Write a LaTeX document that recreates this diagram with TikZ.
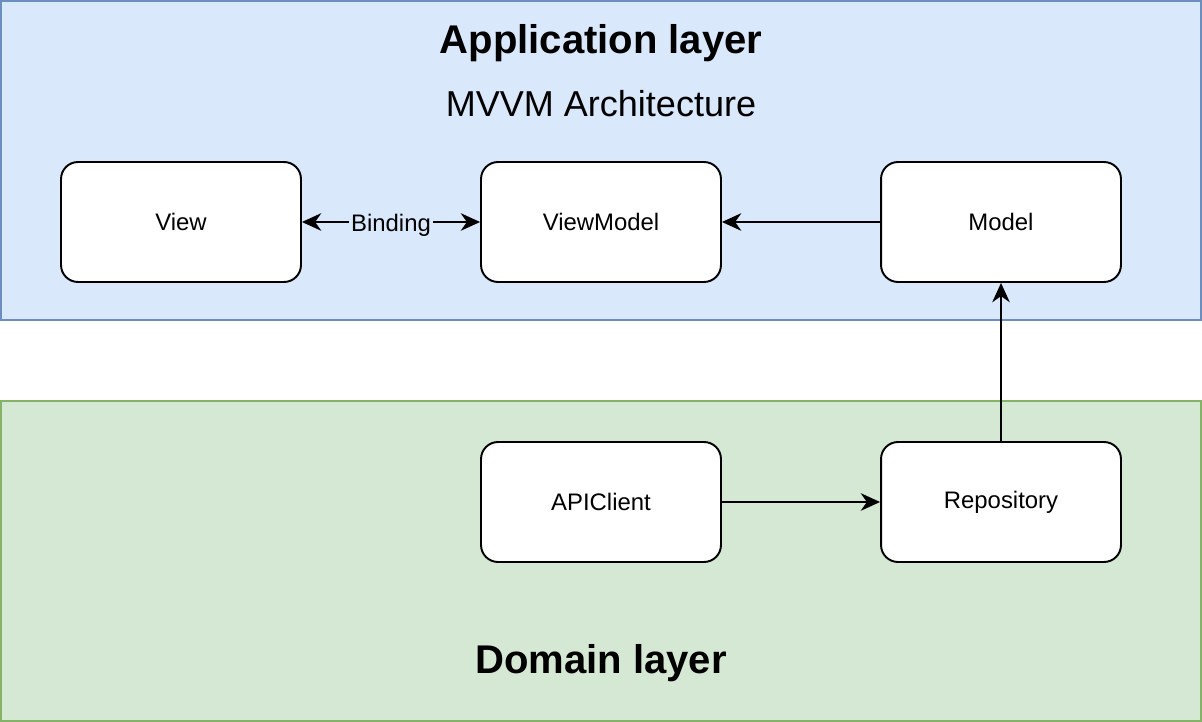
\documentclass[tikz,border=0pt]{standalone}
\usepackage{fontspec}
\setmainfont{Liberation Sans}
\usetikzlibrary{arrows.meta}

\definecolor{appfill}{HTML}{DAE8FC}
\definecolor{appline}{HTML}{6C8EBF}
\definecolor{domfill}{HTML}{D5E8D4}
\definecolor{domline}{HTML}{82B366}

\tikzset{
  block/.style={draw=black, fill=white, line width=1.1pt, rounded corners=0.34cm,
    minimum width=4.8cm, minimum height=2.4cm, font=\fontsize{13.6}{16}\selectfont},
  tip/.tip={Stealth[length=11pt,width=10pt,inset=3.5pt]},
  link/.style={line width=1.1pt, -tip},
}

\begin{document}
\begin{tikzpicture}[x=0.02cm, y=-0.02cm]
    \useasboundingbox (0,0) rectangle (1202,722);
    % Layers
    \draw[fill=appfill, draw=appline, line width=1.1pt] (1,1) rectangle (1201,320);
    \draw[fill=domfill, draw=domline, line width=1.1pt] (1,401) rectangle (1201,721);
    \node (apptitle) at (601,43) {\fontsize{22.8}{26}\selectfont\bfseries Application layer};
    \node (mvvm) at (601,104) {\fontsize{20.5}{24}\selectfont MVVM Architecture};
    \node (domtitle) at (601,663) {\fontsize{22.8}{26}\selectfont\bfseries Domain layer};

    % Blocks
    \node[block] (view) at (181,222) {View};
    \node[block, text depth=0pt] (viewmodel) at (601,222) {ViewModel};
    \node[block] (model) at (1001,222) {Model};
    \node[block] (apiclient) at (601,502) {APIClient};
    \node[block] (repository) at (1001,502) {Repository};

    % Connectors
    \draw[link, tip-tip] (view) -- node[fill=appfill, inner sep=1pt, yshift=-2pt,
      font=\fontsize{13.6}{16}\selectfont] (binding) {Binding} (viewmodel);
    \draw[link] (model) -- (viewmodel);
    \draw[link] (apiclient) -- (repository);
    \draw[link] (repository) -- (model);
\end{tikzpicture}
\end{document}
